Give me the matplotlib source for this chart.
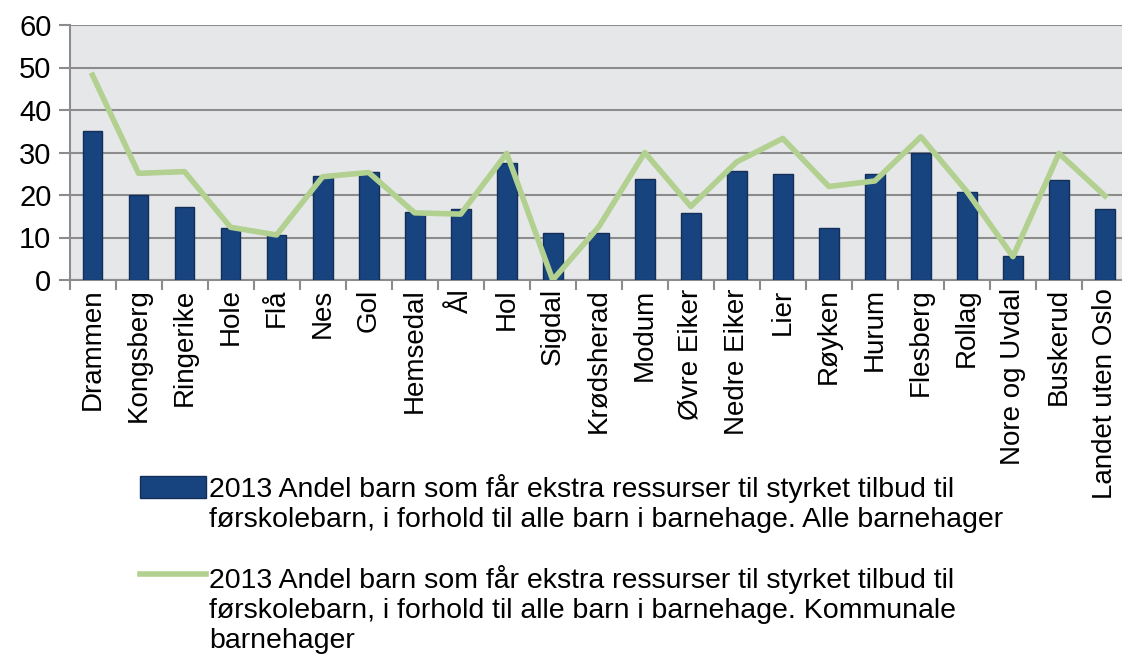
import matplotlib
matplotlib.use("Agg")
import matplotlib.pyplot as plt
from matplotlib.legend_handler import HandlerPatch, HandlerLine2D
import numpy as np

categories = ["Drammen", "Kongsberg", "Ringerike", "Hole", "Flå", "Nes", "Gol",
              "Hemsedal", "Ål", "Hol", "Sigdal", "Krødsherad", "Modum", "Øvre Eiker",
              "Nedre Eiker", "Lier", "Røyken", "Hurum", "Flesberg", "Rollag",
              "Nore og Uvdal", "Buskerud", "Landet uten Oslo"]
alle = [35.1, 20.1, 17.2, 12.2, 10.7, 24.4, 25.3, 16.0, 16.6, 27.6, 11.1, 11.1,
        23.8, 15.8, 25.6, 25.0, 12.2, 25.0, 29.8, 20.6, 5.6, 23.5, 16.6]
kommunale = [48.2, 25.1, 25.5, 12.4, 10.6, 24.3, 25.3, 15.8, 15.5, 29.8, 0.0, 12.5,
             30.0, 17.3, 27.8, 33.3, 22.0, 23.3, 33.7, 20.8, 5.5, 29.8, 19.8]
yticks = [0, 10, 20, 30, 40, 50, 60]
label_bar = ("2013 Andel barn som får ekstra ressurser til styrket tilbud til\n"
             "førskolebarn, i forhold til alle barn i barnehage. Alle barnehager")
label_line = ("2013 Andel barn som får ekstra ressurser til styrket tilbud til\n"
              "førskolebarn, i forhold til alle barn i barnehage. Kommunale\n"
              "barnehager")

plt.rcParams['font.family'] = ['Liberation Sans', 'DejaVu Sans']


class ShiftedPatch(HandlerPatch):
    def __init__(self, shift, **kw):
        super().__init__(**kw)
        self.shift = shift

    def create_artists(self, legend, orig_handle, xdescent, ydescent, width,
                       height, fontsize, trans):
        return super().create_artists(legend, orig_handle, xdescent,
                                      ydescent - self.shift * fontsize, width,
                                      height, fontsize, trans)


class ShiftedLine(HandlerLine2D):
    def __init__(self, shift, **kw):
        super().__init__(**kw)
        self.shift = shift

    def create_artists(self, legend, orig_handle, xdescent, ydescent, width,
                       height, fontsize, trans):
        return super().create_artists(legend, orig_handle, xdescent,
                                      ydescent - 2 * self.shift * fontsize, width,
                                      height, fontsize, trans)


fig = plt.figure(figsize=(11.22, 6.59), dpi=100)
ax = fig.add_axes([69.5/1122, 1-280/659, (1128-69.5)/1122, (280-25)/659])
ax.set_facecolor('#E6E7E9')

x = np.arange(len(categories))
bars = ax.bar(x, alle, width=0.43, color='#17447F', edgecolor='#142E5A', linewidth=1.0,
              label=label_bar, zorder=3)
line, = ax.plot(x, kommunale, color='#B2D08F', linewidth=4, label=label_line, zorder=4)

ax.set_ylim(0, 60)
ax.set_xlim(-0.5, len(categories) - 0.5)
ax.set_yticks(yticks)
ax.yaxis.grid(True, color='#8C8C8C', linewidth=1.5, zorder=1)
ax.set_axisbelow(True)

ax.set_xticks(x)
ax.set_xticklabels(categories, rotation=90, fontsize=20)
ax.set_xticks(np.arange(-0.5, len(categories) + 0.5, 1), minor=True)
ax.tick_params(axis='x', which='major', length=0, pad=6)
ax.tick_params(axis='x', which='minor', length=7, color='#8C8C8C', width=1.5)
ax.tick_params(axis='y', labelsize=21, length=8, color='#8C8C8C', width=1.5, pad=5)

for s in ['top', 'right']:
    ax.spines[s].set_visible(False)
for s in ['left', 'bottom']:
    ax.spines[s].set_color('#8C8C8C')
    ax.spines[s].set_linewidth(1.5)

fs = 20.5
bar_handle = bars.patches[0]
fig.legend([bar_handle, line], [label_bar, label_line], loc='upper left',
           bbox_to_anchor=(129/1122, 1-463/659), frameon=False,
           fontsize=fs, handlelength=2.3, handletextpad=0.12, labelspacing=1.1,
           borderaxespad=0, handleheight=0.85,
           handler_map={bar_handle: ShiftedPatch(0.6), line: ShiftedLine(1.2)})

fig.savefig('out.png', dpi=100)
